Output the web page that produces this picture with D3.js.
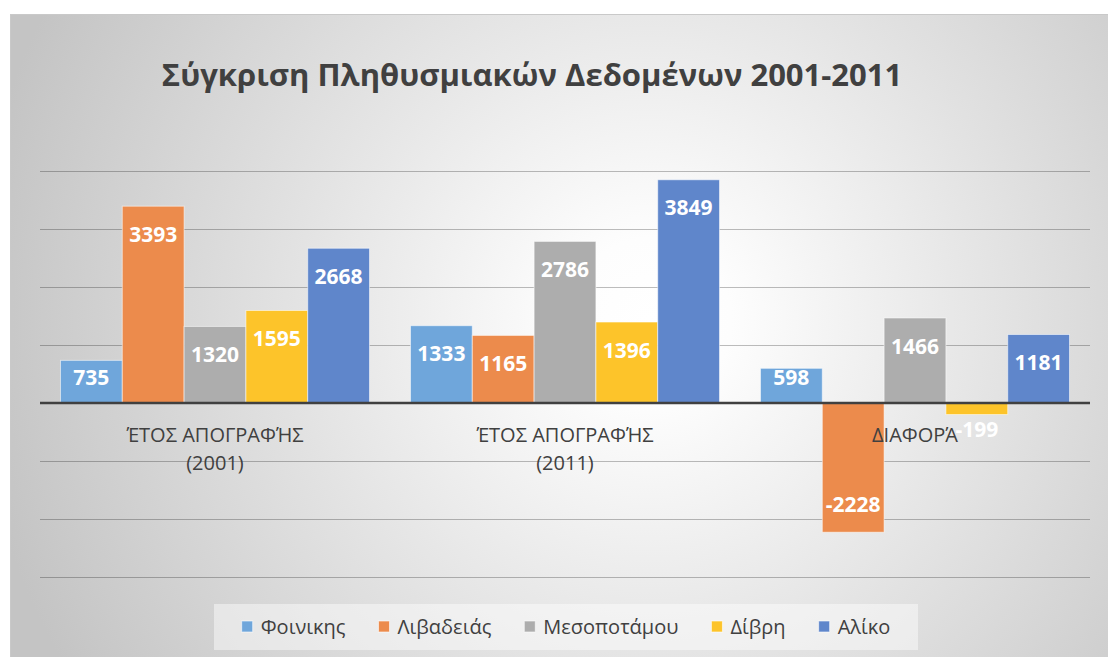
<!DOCTYPE html>
<html><head><meta charset="utf-8">
<script src="https://cdn.jsdelivr.net/npm/d3@7"></script>
<style>html,body{margin:0;padding:0;background:#fff;}svg{display:block;}</style>
</head><body>
<svg id="c" width="1108" height="657"></svg>
<script>
const categories = [["ΈΤΟΣ ΑΠΟΓΡΑΦΉΣ", "(2001)"], ["ΈΤΟΣ ΑΠΟΓΡΑΦΉΣ", "(2011)"], ["ΔΙΑΦΟΡΆ"]];
const seriesNames = ["Φοινικης", "Λιβαδειάς", "Μεσοποτάμου", "Δίβρη", "Αλίκο"];
const fionikis = [735, 1333, 598];
const livadeias = [3393, 1165, -2228];
const mesopotamou = [1320, 2786, 1466];
const divri = [1595, 1396, -199];
const aliko = [2668, 3849, 1181];
const yTicks = [-3000, -2000, -1000, 0, 1000, 2000, 3000, 4000];
const colors = ["#6fa6db", "#ec8b4c", "#adadad", "#fdc42a", "#5f86cb"];
const title = "Σύγκριση Πληθυσμιακών Δεδομένων 2001-2011";

const seriesValues = [fionikis, livadeias, mesopotamou, divri, aliko];
const svg = d3.select("#c");
const defs = svg.append("defs");
const grad = defs.append("radialGradient").attr("id", "bg")
  .attr("gradientUnits", "userSpaceOnUse").attr("cx", 650).attr("cy", 320).attr("r", 680);
grad.append("stop").attr("offset", "0").attr("stop-color", "#ffffff");
grad.append("stop").attr("offset", "0.12").attr("stop-color", "#fdfdfd");
grad.append("stop").attr("offset", "1").attr("stop-color", "#c4c4c4");

svg.append("rect").attr("x", 10.5).attr("y", 14.5).attr("width", 1110).attr("height", 660)
  .attr("fill", "url(#bg)").attr("stroke", "#c9c9c9").attr("stroke-width", 1);

const catIdx = categories.map((c, i) => i);
const x0 = d3.scaleBand().domain(catIdx).range([40, 1090]).paddingInner(0.117).paddingOuter(0.0585);
const x1 = d3.scaleBand().domain(seriesNames).range([0, x0.bandwidth()]).padding(0);
const y = d3.scaleLinear().domain([-3000, 4000]).range([577, 171]);

// gridlines
svg.append("g").selectAll("line").data(yTicks.filter(t => t !== 0)).join("line")
  .attr("x1", 40).attr("x2", 1090)
  .attr("y1", d => Math.round(y(d)) + 0.5).attr("y2", d => Math.round(y(d)) + 0.5)
  .attr("stroke", "rgba(0,0,0,0.26)").attr("stroke-width", 1.2);

// title
svg.append("text").attr("x", 532).attr("y", 86).attr("text-anchor", "middle")
  .attr("font-family", "Open Sans").attr("font-weight", "bold").attr("font-size", 31)
  .attr("fill", "#404040").text(title);

// bars
const flat = [];
seriesNames.forEach((s, si) => seriesValues[si].forEach((v, ci) => flat.push({s, si, ci, v})));
const bars = svg.append("g");
bars.selectAll("rect").data(flat).join("rect")
  .attr("x", d => x0(d.ci) + x1(d.s))
  .attr("width", x1.bandwidth())
  .attr("y", d => Math.min(y(d.v), y(0)))
  .attr("height", d => Math.abs(y(d.v) - y(0)))
  .attr("fill", d => colors[d.si])
  .attr("stroke", "rgba(255,255,255,0.55)").attr("stroke-width", 1);

// zero line
svg.append("line").attr("x1", 40).attr("x2", 1090).attr("y1", y(0)).attr("y2", y(0))
  .attr("stroke", "#404040").attr("stroke-width", 2.6);

// data labels
svg.append("g").selectAll("text").data(flat).join("text")
  .attr("x", d => x0(d.ci) + x1(d.s) + x1.bandwidth() / 2)
  .attr("y", d => d.v >= 0 ? Math.min(y(d.v) + 28, y(0) - 26) : Math.max(y(d.v) - 28, y(0) + 26))
  .attr("dy", "0.36em")
  .attr("text-anchor", "middle")
  .attr("font-family", "Open Sans").attr("font-weight", "bold").attr("font-size", 21)
  .attr("fill", "#ffffff").text(d => d.v);

// category labels
const cat = svg.append("g").attr("font-family", "Open Sans").attr("font-size", 20).attr("fill", "#404040");
categories.forEach((lines, i) => {
  lines.forEach((ln, j) => {
    cat.append("text").attr("x", x0(i) + x0.bandwidth() / 2).attr("y", 442 + j * 28)
      .attr("text-anchor", "middle").text(ln);
  });
});

// legend
const leg = svg.append("g");
leg.append("rect").attr("x", 214).attr("y", 604).attr("width", 704).attr("height", 46)
  .attr("fill", "#ffffff").attr("fill-opacity", 0.45);
const items = leg.selectAll("g.it").data(seriesNames).join("g").attr("class", "it");
items.append("rect").attr("width", 11).attr("height", 11).attr("y", 621)
  .attr("fill", (d, i) => colors[i]).attr("stroke", "rgba(255,255,255,0.6)");
const lt = items.append("text").attr("y", 634).attr("font-family", "Open Sans").attr("font-size", 20)
  .attr("fill", "#404040").text(d => d);
const widths = lt.nodes().map(n => n.getComputedTextLength());
const gapSq = 8, gapItem = 33;
const total = d3.sum(widths) + widths.length * (11 + gapSq) + (widths.length - 1) * gapItem;
let cx = 566 - total / 2;
items.each(function(d, i) {
  const g = d3.select(this);
  g.select("rect").attr("x", cx);
  g.select("text").attr("x", cx + 11 + gapSq);
  cx += 11 + gapSq + widths[i] + gapItem;
});
</script>
</body></html>
